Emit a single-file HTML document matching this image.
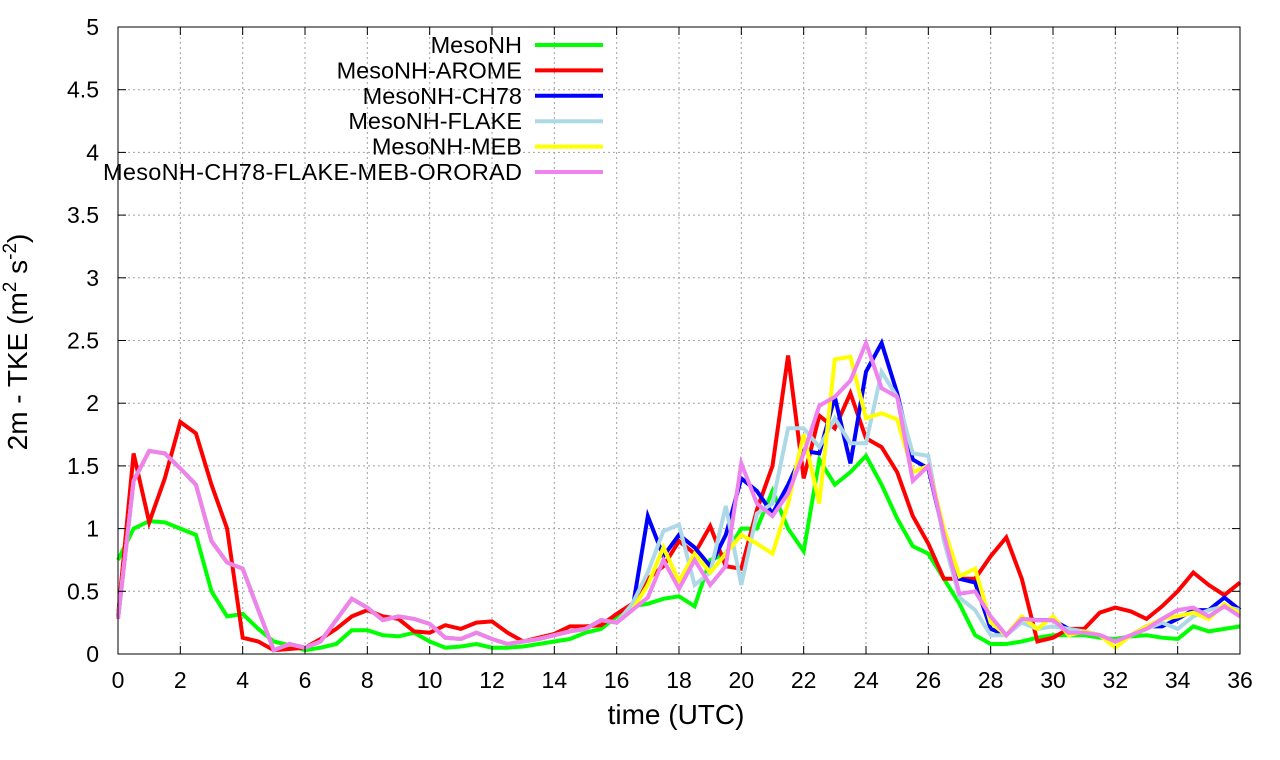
<!DOCTYPE html>
<html><head><meta charset="utf-8"><style>
body{margin:0;background:#fff;}
svg{display:block;font-family:"Liberation Sans",sans-serif;}
</style></head><body>
<svg id="chart" width="1280" height="760" xmlns="http://www.w3.org/2000/svg">
<g id="grid"></g>
<g id="series"></g>
<rect x="118" y="27" width="1122" height="627" fill="none" stroke="#000" stroke-width="1"/>
<g id="ticks"></g>
<text x="676" y="724" font-size="28" text-anchor="middle">time (UTC)</text>
<text transform="translate(27,342) rotate(-90)" font-size="28" text-anchor="middle">2m - TKE (m<tspan font-size="19" dy="-11">2</tspan><tspan dy="11"> s</tspan><tspan font-size="19" dy="-11">-2</tspan><tspan dy="11">)</tspan></text>
<g id="legend"></g>
</svg>
<script>
const xTicks=[0,2,4,6,8,10,12,14,16,18,20,22,24,26,28,30,32,34,36];
const yTicks=[0,0.5,1,1.5,2,2.5,3,3.5,4,4.5,5];
const yTickLabels=["0","0.5","1","1.5","2","2.5","3","3.5","4","4.5","5"];
const seriesNames=["MesoNH","MesoNH-AROME","MesoNH-CH78","MesoNH-FLAKE","MesoNH-MEB","MesoNH-CH78-FLAKE-MEB-ORORAD"];
const seriesColors=["#00ff00","#ff0000","#0000ff","#add8e6","#ffff00","#ee82ee"];
const early=[0.28,1.38,1.62,1.6,1.48,1.35,0.9,0.73,0.68,0.35,0.03,0.08,0.05,0.1,0.27,0.44,0.37,0.27,0.3,0.28,0.24,0.13,0.12,0.17,0.12,0.08,0.1,0.12,0.15,0.18,0.2,0.27,0.25];
const mesonh=[0.75,1.0,1.06,1.05,1.0,0.95,0.5,0.3,0.32,0.2,0.1,0.07,0.03,0.05,0.08,0.19,0.19,0.15,0.14,0.17,0.1,0.05,0.06,0.08,0.05,0.05,0.06,0.08,0.1,0.12,0.17,0.2,0.3,0.38,0.4,0.44,0.46,0.38,0.75,0.8,1.0,1.0,1.3,1.0,0.82,1.55,1.35,1.45,1.58,1.35,1.08,0.86,0.8,0.6,0.4,0.15,0.08,0.08,0.1,0.13,0.15,0.15,0.15,0.13,0.12,0.14,0.15,0.13,0.12,0.22,0.18,0.2,0.22];
const arome=[0.3,1.6,1.05,1.4,1.85,1.76,1.35,1.0,0.13,0.1,0.03,0.04,0.05,0.12,0.2,0.3,0.35,0.3,0.28,0.18,0.17,0.23,0.2,0.25,0.26,0.17,0.1,0.13,0.16,0.22,0.22,0.23,0.32,0.4,0.6,0.7,0.9,0.8,1.02,0.7,0.68,1.15,1.5,2.38,1.4,1.9,1.8,2.08,1.72,1.65,1.45,1.1,0.88,0.6,0.6,0.6,0.78,0.93,0.6,0.1,0.13,0.2,0.2,0.33,0.37,0.34,0.28,0.38,0.5,0.65,0.55,0.47,0.57];
const ch78=early.concat([0.35,1.1,0.78,0.95,0.85,0.7,0.95,1.4,1.3,1.12,1.35,1.62,1.6,2.05,1.52,2.25,2.48,2.08,1.55,1.48,0.95,0.6,0.57,0.2,0.15,0.28,0.27,0.27,0.2,0.18,0.15,0.1,0.15,0.22,0.22,0.28,0.35,0.35,0.45,0.35]);
const flake=early.concat([0.4,0.65,0.98,1.03,0.55,0.65,1.18,0.55,1.12,1.2,1.8,1.8,1.65,1.88,1.68,1.68,2.25,2.05,1.6,1.58,0.9,0.45,0.35,0.15,0.15,0.25,0.2,0.22,0.2,0.18,0.15,0.1,0.15,0.2,0.25,0.2,0.3,0.35,0.38,0.35]);
const meb=early.concat([0.35,0.55,0.85,0.58,0.8,0.65,0.8,0.95,0.88,0.8,1.2,1.75,1.2,2.35,2.37,1.88,1.92,1.87,1.45,1.5,1.0,0.62,0.68,0.25,0.15,0.3,0.2,0.3,0.15,0.18,0.15,0.05,0.15,0.22,0.28,0.3,0.33,0.28,0.4,0.32]);
const ororad=early.concat([0.35,0.45,0.75,0.52,0.75,0.55,0.7,1.52,1.2,1.1,1.28,1.6,1.98,2.05,2.18,2.48,2.12,2.05,1.38,1.5,0.95,0.48,0.5,0.3,0.15,0.28,0.27,0.27,0.17,0.17,0.15,0.1,0.15,0.2,0.28,0.35,0.37,0.3,0.38,0.3]);
const allSeries=[mesonh,arome,ch78,flake,meb,ororad];
const NS="http://www.w3.org/2000/svg";
const X=t=>118+t*(1122/36), Y=v=>654-v*(627/5);
function mk(tag,attrs,parent){const e=document.createElementNS(NS,tag);for(const k in attrs)e.setAttribute(k,attrs[k]);parent.appendChild(e);return e;}
const grid=document.getElementById('grid'),ticks=document.getElementById('ticks');
xTicks.forEach(t=>{
  if(t>0&&t<36){const g=mk('line',{x1:X(t),x2:X(t),y1:27,y2:654,stroke:'#a0a0a0','stroke-dasharray':'2,3'},grid);
  }
  const a=mk('line',{x1:X(t),x2:X(t),y1:654,y2:646,stroke:'#000'},ticks);
  
  const b=mk('line',{x1:X(t),x2:X(t),y1:27,y2:35,stroke:'#000'},ticks);
  
  const l=mk('text',{x:X(t),y:688,'font-size':23,'text-anchor':'middle'},ticks);l.textContent=t;
  
});
yTicks.forEach((v,i)=>{
  if(v>0&&v<5){const g=mk('line',{x1:118,x2:1240,y1:Y(v),y2:Y(v),stroke:'#a0a0a0','stroke-dasharray':'2,3'},grid);
  }
  const a=mk('line',{x1:118,x2:126,y1:Y(v),y2:Y(v),stroke:'#000'},ticks);
  
  const b=mk('line',{x1:1232,x2:1240,y1:Y(v),y2:Y(v),stroke:'#000'},ticks);
  
  const l=mk('text',{x:99,y:Y(v)+8,'font-size':23,'text-anchor':'end'},ticks);l.textContent=yTickLabels[i];
  
});
const sg=document.getElementById('series'),lg=document.getElementById('legend');
allSeries.forEach((s,i)=>{
  const pts=s.map((v,j)=>X(j*0.5).toFixed(1)+','+Y(v).toFixed(1)).join(' ');
  const p=mk('polyline',{points:pts,fill:'none',stroke:seriesColors[i],'stroke-width':4,'stroke-linejoin':'miter'},sg);
  
  
  const y=45+i*25.4;
  const t=mk('text',{x:522,y:y+8,'font-size':23.5,'text-anchor':'end','textLength':i===5?419:null},lg);t.textContent=seriesNames[i];
  if(i!==5)t.removeAttribute('textLength');
  
  
  const l=mk('line',{x1:535,x2:603,y1:y,y2:y,stroke:seriesColors[i],'stroke-width':4},lg);
  
  
});
</script>
</body></html>
